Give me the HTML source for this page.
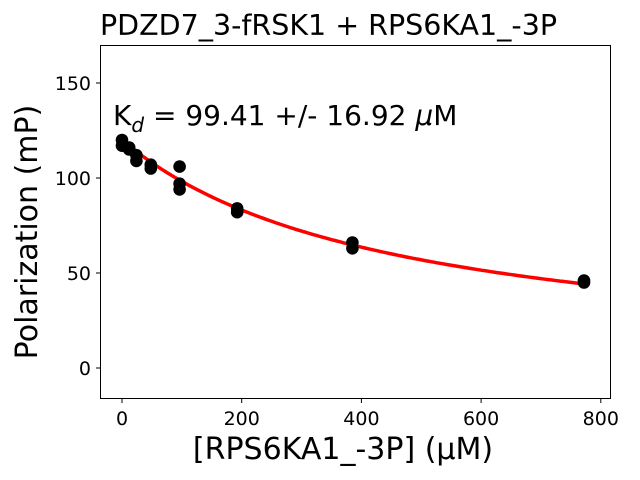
<!DOCTYPE html>
<html><head><style>body{margin:0;background:#fff}svg{display:block}text{font-family:"DejaVu Sans","Liberation Sans",sans-serif}</style></head>
<body>
<svg id="s" width="640" height="480" xmlns="http://www.w3.org/2000/svg">
<rect x="100.5" y="45.5" width="510" height="353" fill="none" stroke="#000" stroke-width="1"/>
<g stroke="#000" stroke-width="1">
<line x1="122" y1="399" x2="122" y2="403"/><line x1="241.7" y1="399" x2="241.7" y2="403"/><line x1="361.4" y1="399" x2="361.4" y2="403"/><line x1="481.1" y1="399" x2="481.1" y2="403"/><line x1="600.8" y1="399" x2="600.8" y2="403"/>
<line x1="96" y1="368" x2="100" y2="368"/><line x1="96" y1="273" x2="100" y2="273"/><line x1="96" y1="178" x2="100" y2="178"/><line x1="96" y1="83" x2="100" y2="83"/>
</g>
<g font-size="19" text-anchor="middle">
<text x="122" y="425">0</text><text x="241.7" y="425">200</text><text x="361.4" y="425">400</text><text x="481.1" y="425">600</text><text x="600.8" y="425">800</text>
</g>
<g font-size="19" text-anchor="end">
<text x="91" y="375">0</text><text x="91" y="280">50</text><text x="91" y="185">100</text><text x="91" y="90">150</text>
</g>
<text x="343" y="459" font-size="30" text-anchor="middle">[RPS6KA1_-3P] (μM)</text>
<text transform="translate(37,232) rotate(-90)" font-size="30" text-anchor="middle">Polarization (mP)</text>
<text x="100" y="35" font-size="28.5">PDZD7_3-fRSK1 + RPS6KA1_-3P</text>
<text x="113" y="125" font-size="28">K<tspan font-size="20" font-style="italic" dy="7">d</tspan><tspan dy="-7"> = 99.41 +/- 16.92 </tspan><tspan font-style="italic">μ</tspan>M</text>
<path id="c" fill="none" stroke="#f00" stroke-width="3.5"/>
<g id="p" fill="#000"></g>
</svg>
<script>
var d="";for(var x=0;x<=770;x+=5){var y=120-120*x/(450+x);d+=(x?"L":"M")+(122+0.6*x).toFixed(1)+","+(368-1.9*y).toFixed(1);}
document.getElementById("c").setAttribute("d",d);
var pts=[[0,120],[0,117],[12,116],[12,115],[24,112],[24,109],[48,107],[48,105],[96,106],[96,97],[96,94],[192,84],[192,82],[384,66],[384,63],[770,46],[770,45]];
var g=document.getElementById("p"),h="";
pts.forEach(function(p){h+='<ellipse cx="'+(122+0.6*p[0])+'" cy="'+(368-1.9*p[1])+'" rx="6.3" ry="6.3"/>';});
g.innerHTML=h;
</script>
</body></html>
